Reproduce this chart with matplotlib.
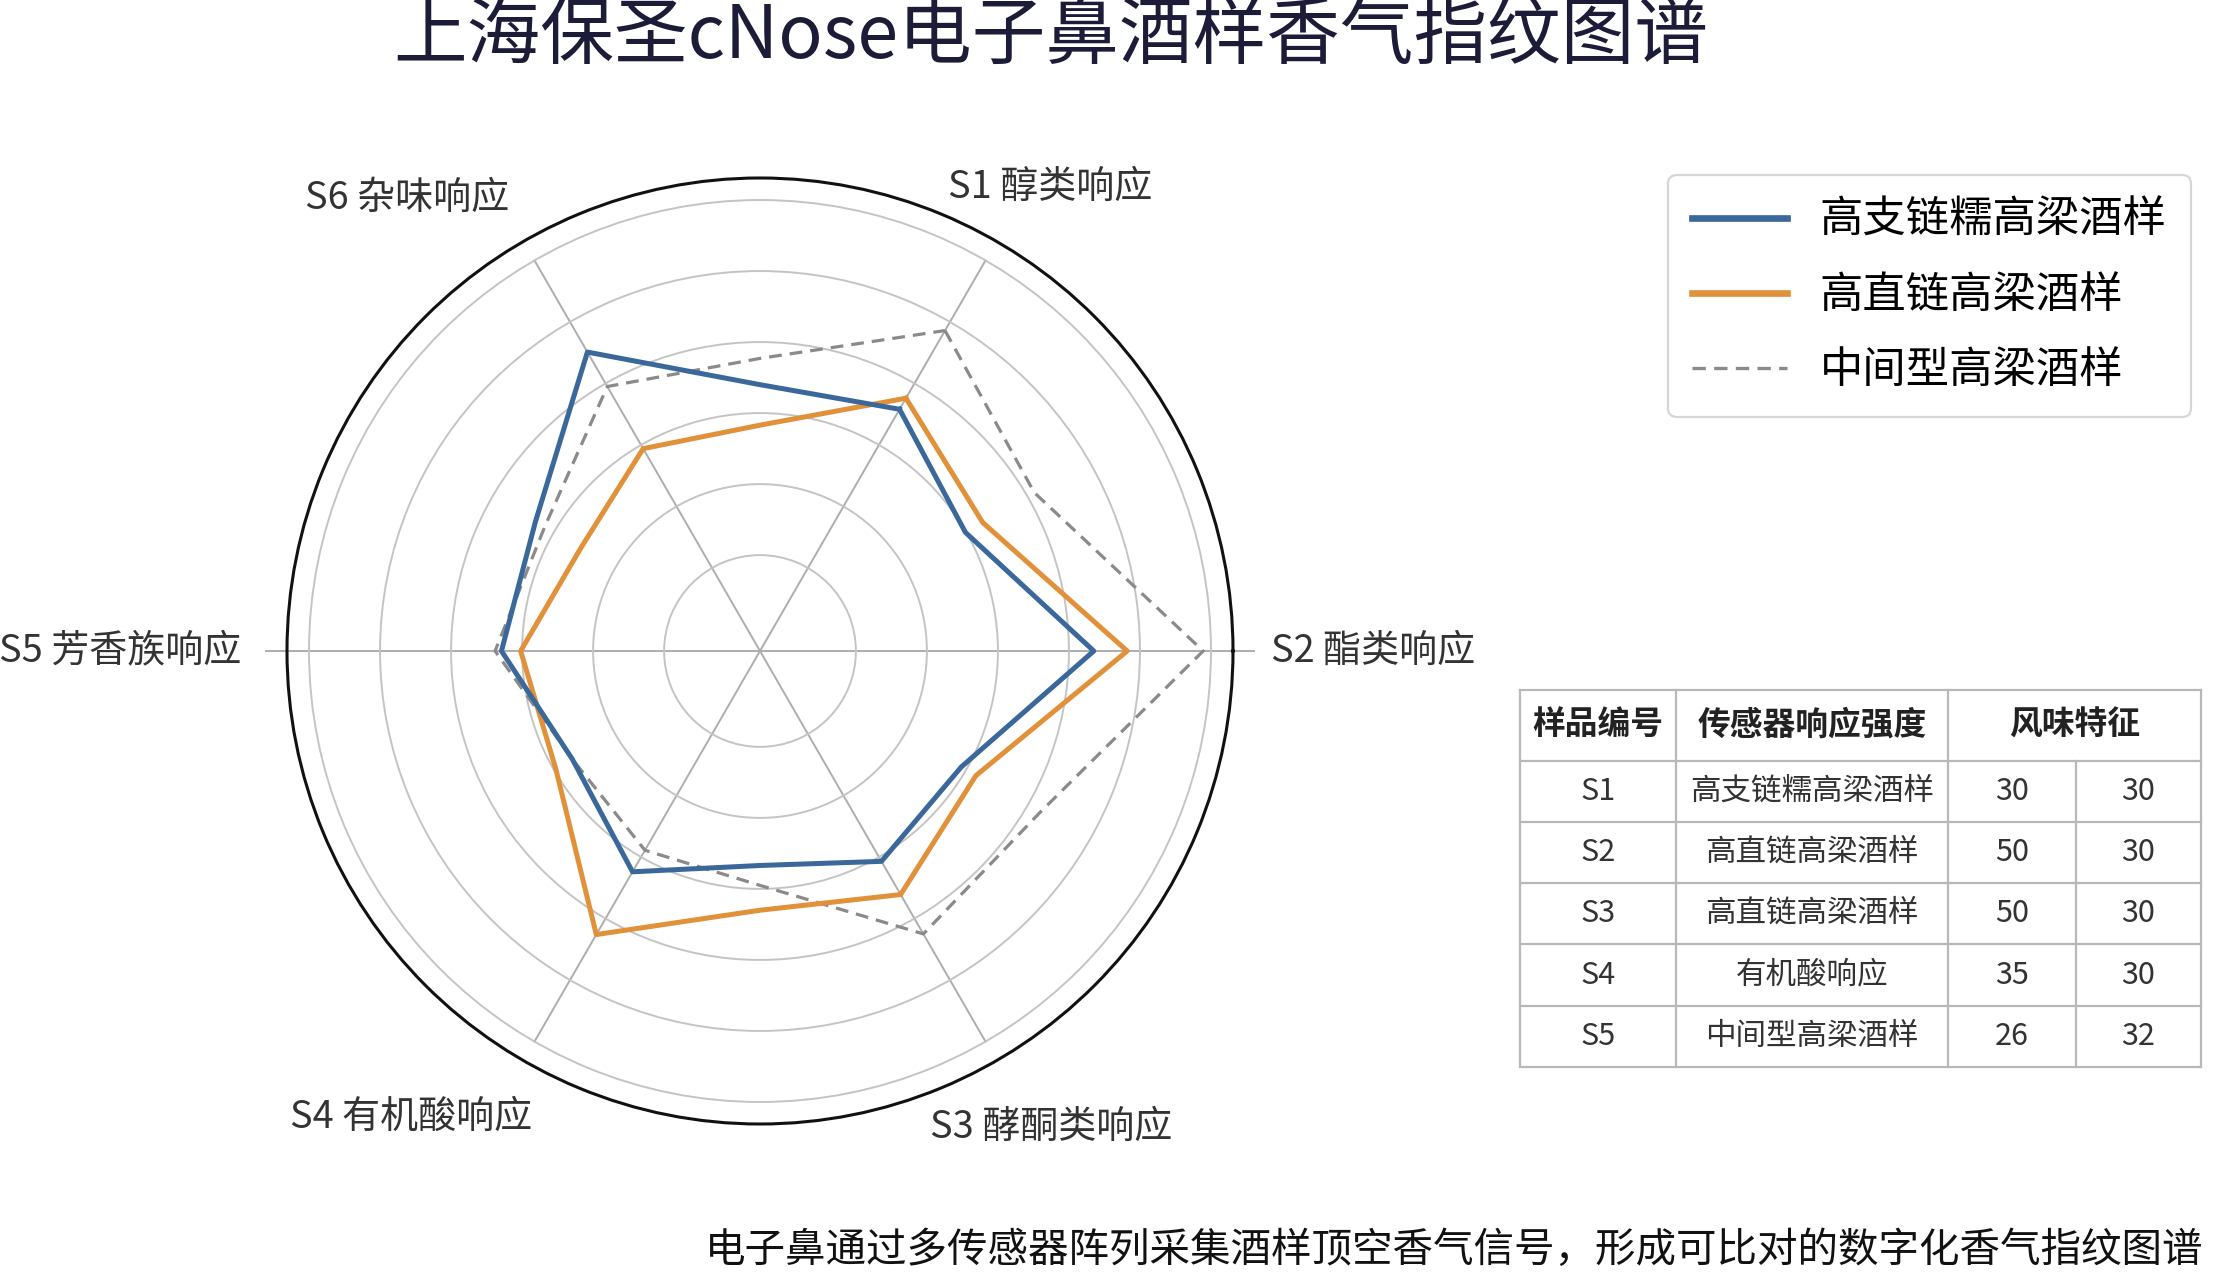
import matplotlib
matplotlib.use('Agg')
import matplotlib.pyplot as plt
import numpy as np

plt.rcParams['font.family'] = ['Noto Sans CJK SC', 'DejaVu Sans']

# ---------------- data ----------------
title = "上海保圣cNose电子鼻酒样香气指纹图谱"
caption = "电子鼻通过多传感器阵列采集酒样顶空香气信号，形成可比对的数字化香气指纹图谱"

axis_labels = ["S1 醇类响应", "S2 酯类响应", "S3 酵酮类响应",
               "S4 有机酸响应", "S5 芳香族响应", "S6 杂味响应"]
axis_angles_deg = [60, 0, -60, -120, 180, 120]

# 12 sample points clockwise from S1 (every 30 degrees)
point_angles_deg = [60, 30, 0, -30, -60, -90, -120, -150, 180, 150, 120, 90]

series_names = ["高支链糯高梁酒样", "高直链高梁酒样", "中间型高梁酒样"]
high_branched = [35.8, 29.9, 43.5, 29.2, 30.7, 26.7, 32.4, 27.0, 32.9, 33.0, 45.1, 34.0]
high_linear   = [37.6, 32.7, 48.2, 31.6, 36.1, 33.0, 42.6, 29.7, 30.2, 25.6, 29.4, 28.3]
intermediate  = [48.6, 41.1, 58.9, 42.0, 42.5, 29.5, 28.9, 27.0, 33.8, 31.5, 39.5, 37.7]

grid_values = [10, 20, 30, 40, 50, 60]

table_header = ["样品编号", "传感器响应强度", "风味特征"]
table_ids = ["S1", "S2", "S3", "S4", "S5"]
table_desc = ["高支链糯高梁酒样", "高直链高梁酒样", "高直链高梁酒样", "有机酸响应", "中间型高梁酒样"]
table_v1 = ["30", "50", "50", "35", "26"]
table_v2 = ["30", "30", "30", "30", "32"]

# ---------------- figure ----------------
W, H = 2222, 1276
DPI = 200
fig = plt.figure(figsize=(W / DPI, H / DPI), dpi=DPI)
fig.patch.set_facecolor('white')

cx, cy, R = 760, 651, 473
ax = fig.add_axes([(cx - R) / W, (H - cy - R) / H, 2 * R / W, 2 * R / H], projection='polar')
ax.set_facecolor('none')
rmin, rmax = -3.5, 63.1
ax.set_ylim(rmin, rmax)
ax.set_xticks([])
ax.set_yticks(grid_values)
ax.set_yticklabels([])
ax.yaxis.grid(True, color='#c4c4c4', linewidth=0.7)
ax.xaxis.grid(False)
ax.spines['polar'].set_color('#111111')
ax.spines['polar'].set_linewidth(1.1)

# spokes
for a in axis_angles_deg:
    t = np.deg2rad(a)
    if a in (0, 180):
        ax.plot([t, t], [rmin, 66.0], color='#adadad', lw=0.7, clip_on=False, zorder=1)
    else:
        ax.plot([t, t], [rmin, 60], color='#adadad', lw=0.7, zorder=1)

th = np.deg2rad(point_angles_deg + point_angles_deg[:1])

def closed(v):
    return list(v) + [v[0]]

ax.plot(th, closed(intermediate), color='#8a8a8a', lw=1.15, ls=(0, (4, 2.5)),
        label=series_names[2], zorder=3)
ax.plot(th, closed(high_linear), color='#e0913a', lw=1.8, label=series_names[1], zorder=4)
ax.plot(th, closed(high_branched), color='#3a689a', lw=1.8, label=series_names[0], zorder=5)

# axis labels
label_pos = {  # angle(deg), radius(data), ha, va
    0: (58, 73.5, 'center', 'center'),
    1: (0, 68.5, 'left', 'center'),
    2: (-58.6, 75.1, 'center', 'center'),
    3: (-126.8, 78.5, 'center', 'center'),
    4: (180, 69.6, 'right', 'center'),
    5: (128, 77.3, 'center', 'center'),
}
for i, lab in enumerate(axis_labels):
    a, r, ha, va = label_pos[i]
    ax.text(np.deg2rad(a), r, lab, ha=ha, va=va, fontsize=13.7, color='#333333', clip_on=False)

# legend
handles, labels = ax.get_legend_handles_labels()
order = [2, 1, 0]
leg = fig.legend([handles[i] for i in order], [labels[i] for i in order],
                 loc='upper left', bbox_to_anchor=(1668 / W, 1 - 175 / H),
                 borderaxespad=0.0,
                 fontsize=15.6, handlelength=2.2, handletextpad=0.75, labelspacing=0.72,
                 borderpad=0.55, frameon=True, fancybox=True, edgecolor='#cccccc')
leg.get_frame().set_linewidth(0.8)
for line in leg.get_lines():
    line.set_linewidth(2.4)
leg.get_lines()[2].set_linewidth(1.2)

# title & caption
fig.text(1051 / W, 1 - 37 / H, title, ha='center', va='center', fontsize=26.5,
         color='#1c1c38', fontweight='medium')
fig.text(2203 / W, 1 - 1250 / H, caption, ha='right', va='center', fontsize=14.6,
         color='#111111')

# table
tl, tr, tt, tb = 1520, 2201, 690, 1067
tax = fig.add_axes([tl / W, (H - tb) / H, (tr - tl) / W, (tb - tt) / H])
tw, th_ = tr - tl, tb - tt
tax.set_xlim(0, tw)
tax.set_ylim(th_, 0)
tax.axis('off')
col_edges = [0, 156, 428, 556, 681]
row_edges = [0, 71, 132, 193, 254, 316, 377]
lc = '#b8b8b8'
for y in row_edges:
    tax.plot([0, tw], [y, y], color=lc, lw=0.8, clip_on=False)
for j, x in enumerate(col_edges):
    y0 = row_edges[1] if j == 3 else 0
    tax.plot([x, x], [y0, th_], color=lc, lw=0.8, clip_on=False)
hdr_centers = [(col_edges[0] + col_edges[1]) / 2, (col_edges[1] + col_edges[2]) / 2,
               (col_edges[2] + col_edges[4]) / 2]
for x, txt in zip(hdr_centers, table_header):
    tax.text(x, (row_edges[0] + row_edges[1]) / 2, txt, ha='center', va='center',
             fontsize=11.8, fontweight='bold', color='#222222')
for i in range(len(table_ids)):
    yc = (row_edges[i + 1] + row_edges[i + 2]) / 2
    vals = [table_ids[i], table_desc[i], table_v1[i], table_v2[i]]
    for j, v in enumerate(vals):
        xc = (col_edges[j] + col_edges[j + 1]) / 2
        tax.text(xc, yc, v, ha='center', va='center', fontsize=11, color='#333333')

fig.savefig('out.png', dpi=DPI, facecolor='white')
